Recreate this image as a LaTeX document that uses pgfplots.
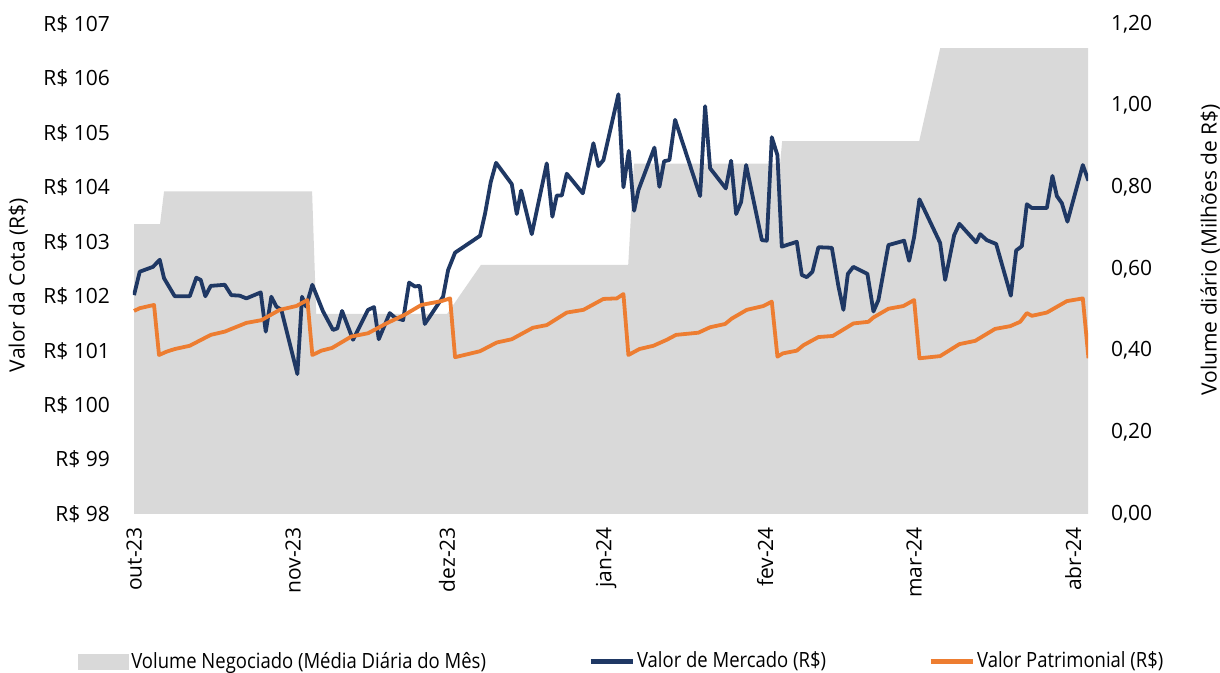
\documentclass[border=0pt]{standalone}
\usepackage{pgfplots}
\pgfplotsset{compat=1.18}
\usepackage{fontspec}
\setmainfont{Open Sans}
\newfontfamily\legfont{Open Sans}[FakeStretch=0.88]
\definecolor{navy}{HTML}{1F3864}
\definecolor{orng}{HTML}{ED7D31}
\definecolor{volgray}{HTML}{D9D9D9}
\begin{document}
\begin{tikzpicture}
\pgfplotsset{
  base/.style={scale only axis, width=477.5pt, height=245pt, xmin=-0.2, xmax=185.9,
    axis line style={draw=none}, major tick length=0pt,
    tick label style={font=\fontsize{10.5}{12}\selectfont},
    label style={font=\fontsize{10.5}{12}\selectfont}},
}
\begin{axis}[base, axis y line*=right, axis x line*=bottom,
  ymin=0, ymax=1.2, ytick={0,0.2,0.4,0.6,0.8,1.0,1.2},
  yticklabels={{0,00},{0,20},{0,40},{0,60},{0,80},{1,00},{1,20}},
  yticklabel shift=8pt,
  xtick={0,31,61,92,123,152,183},
  xticklabels={out-23,nov-23,dez-23,jan-24,fev-24,mar-24,abr-24},
  xticklabel style={rotate=90, anchor=east},
  xticklabel shift=3pt,
  ylabel={Volume diário (Milhões de R\$)},
  ylabel style={at={(axis description cs:1.128,0.539)}, anchor=center},
]
\addplot[fill=volgray, draw=none] coordinates {
(0,0.71) (5.07,0.71) (5.85,0.79) (34.7,0.79) (35.5,0.49) (61.0,0.49) (67.6,0.61)
(96.3,0.61) (97.4,0.858) (125.9,0.858) (126.3,0.913) (153.0,0.913) (157.1,1.141) (185.9,1.141)
} \closedcycle;
\end{axis}
\begin{axis}[base, axis y line*=left, xtick=\empty,
  ymin=98, ymax=107, ytick={98,99,100,101,102,103,104,105,106,107},
  yticklabels={R\$ 98,R\$ 99,R\$ 100,R\$ 101,R\$ 102,R\$ 103,R\$ 104,R\$ 105,R\$ 106,R\$ 107},
  yticklabel shift=8pt,
  ylabel={Valor da Cota (R\$)},
  ylabel style={at={(axis description cs:-0.120,0.467)}, anchor=center},
  legend columns=3,
  legend cell align=left,
  legend style={at={(axis description cs:0.512,-0.301)}, anchor=center, draw=none, fill=none,
    font=\legfont\fontsize{10.5}{12}\selectfont,
    nodes={inner xsep=1pt},
    /tikz/every even column/.append style={column sep=50pt},
    /tikz/every odd column/.append style={column sep=0pt}},
]
\addlegendimage{legend image code/.code={\fill[volgray] (0pt,-3.75pt) rectangle (25pt,3.75pt);}}
\addlegendentry{Volume Negociado (Média Diária do Mês)}
\addplot[navy, line width=1.9pt, line join=round,
  legend image code/.code={\draw[navy, line width=2.5pt] (0pt,0pt) -- (21pt,0pt);}] coordinates {
(0,102.02) (1.11,102.45) (3.70,102.54) (5.01,102.67) (5.85,102.33) (7.93,102.00) (10.86,102.00)
(12.14,102.34) (13.00,102.30) (13.90,102.00) (14.95,102.19) (17.68,102.21) (18.96,102.02)
(20.60,102.01) (21.89,101.96) (24.69,102.07) (25.67,101.35) (26.76,101.99) (27.73,101.81)
(28.71,101.75) (31.83,100.57) (32.74,101.99) (33.52,101.81) (34.75,102.21) (36.84,101.72)
(38.78,101.38) (39.62,101.41) (40.54,101.73) (42.68,101.20) (45.61,101.75) (46.77,101.80)
(47.69,101.21) (49.83,101.69) (50.81,101.61) (52.43,101.56) (53.60,102.25) (54.71,102.18)
(55.68,102.19) (56.66,101.49) (60.22,101.99) (61.2,102.48) (62.56,102.80) (67.43,103.11)
(68.41,103.52) (69.52,104.10) (70.55,104.45) (73.61,104.06) (74.59,103.51) (75.43,103.94)
(77.51,103.14) (80.43,104.44) (81.52,103.46) (82.38,103.85) (83.36,103.85) (84.33,104.25)
(87.45,103.89) (89.52,104.81) (90.49,104.39) (91.47,104.50) (94.39,105.71) (95.37,104.00)
(96.41,104.67) (97.45,103.57) (98.29,103.95) (101.41,104.73) (102.38,104.01) (103.30,104.48)
(104.33,104.50) (105.44,105.24) (110.31,103.84) (111.29,105.49) (112.26,104.35) (115.32,103.98)
(116.35,104.49) (117.33,103.51) (118.30,103.73) (119.28,104.41) (122.34,103.03) (123.31,103.02)
(124.28,104.92) (125.38,104.59) (126.23,102.91) (129.15,103.00) (130.13,102.39) (131.11,102.35)
(132.20,102.45) (133.37,102.90) (135.98,102.89) (137.27,102.18) (138.24,101.75) (139.10,102.41)
(140.18,102.54) (142.91,102.41) (144.09,101.72) (145.06,101.93) (147.01,102.94) (150.07,103.02)
(151.04,102.65) (152.02,103.09) (153.05,103.78) (157.08,102.98) (158.06,102.30) (159.81,103.12)
(160.84,103.33) (164.10,102.99) (164.88,103.14) (166.18,103.03) (168.0,102.96) (170.86,102.01)
(171.90,102.84) (173.01,102.92) (173.98,103.69) (174.96,103.62) (177.88,103.62) (178.97,104.21)
(179.83,103.84) (180.80,103.71) (181.89,103.37) (184.89,104.41) (185.99,104.12)
};
\addlegendentry{Valor de Mercado (R\$)}
\addplot[orng, line width=1.9pt, line join=round,
  legend image code/.code={\draw[orng, line width=2.5pt] (0pt,0pt) -- (21pt,0pt);}] coordinates {
(0,101.73) (1.11,101.78) (3.90,101.84) (4.87,100.92) (6.30,100.98) (7.93,101.03) (10.86,101.09)
(14.95,101.29) (17.68,101.35) (21.89,101.51) (24.81,101.56) (28.40,101.75) (31.63,101.82)
(33.78,101.93) (34.75,100.92) (36.51,101.00) (38.59,101.05) (42.35,101.26) (45.61,101.32)
(49.17,101.50) (52.76,101.66) (55.99,101.84) (59.89,101.91) (61.59,101.96) (62.56,100.88)
(67.43,100.99) (70.69,101.15) (73.61,101.21) (77.70,101.42) (80.43,101.47) (84.33,101.70)
(87.57,101.75) (91.47,101.95) (94.08,101.96) (95.37,102.04) (96.34,100.92) (98.48,101.03)
(101.21,101.09) (103.82,101.20) (105.63,101.29) (109.98,101.33) (112.26,101.43) (115.18,101.49)
(116.49,101.59) (119.41,101.75) (122.65,101.82) (124.28,101.90) (125.38,100.89) (126.43,100.95)
(129.15,101.00) (130.44,101.10) (133.37,101.25) (136.17,101.27) (140.18,101.50) (143.11,101.53)
(144.09,101.61) (147.01,101.77) (149.93,101.82) (152.02,101.93) (153.05,100.86) (157.08,100.90)
(160.84,101.12) (163.90,101.18) (167.80,101.40) (170.73,101.45) (172.68,101.53) (173.98,101.69)
(174.96,101.64) (177.88,101.70) (181.78,101.91) (184.89,101.96) (185.99,100.86)
};
\addlegendentry{Valor Patrimonial (R\$)}
\end{axis}
\pgfresetboundingbox
\path[use as bounding box] (-66.5pt,-79.5pt) rectangle (543.5pt,257pt);
\end{tikzpicture}
\end{document}
